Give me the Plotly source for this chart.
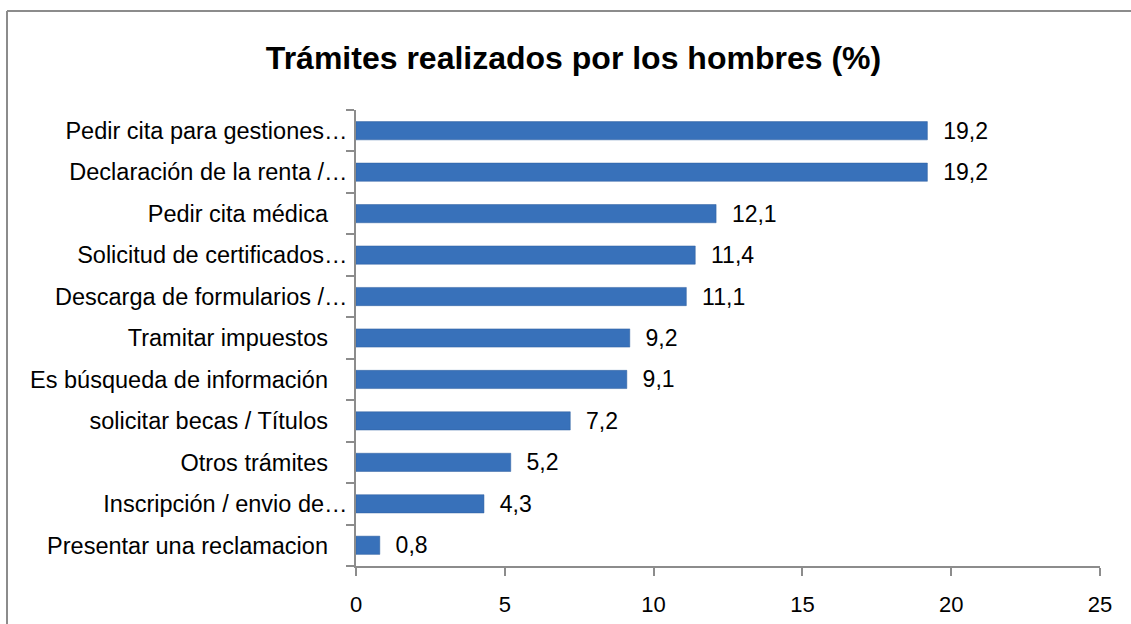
import plotly.graph_objects as go

# categories listed top to bottom, as in the original chart
categorias = [
    "Pedir cita para gestiones…",
    "Declaración de la renta /…",
    "Pedir cita médica ",
    "Solicitud de certificados…",
    "Descarga de formularios /…",
    "Tramitar impuestos ",
    "Es búsqueda de información ",
    "solicitar becas / Títulos ",
    "Otros trámites ",
    "Inscripción / envio de…",
    "Presentar una reclamacion ",
]
porcentajes = [19.2, 19.2, 12.1, 11.4, 11.1, 9.2, 9.1, 7.2, 5.2, 4.3, 0.8]
x_ticks = [0, 5, 10, 15, 20, 25]

fuente = "Liberation Sans, Arial, sans-serif"

W, H = 1131, 624
L, T, PW, PH = 356, 110, 744, 456

# trailing blanks survive as non-breaking spaces
etiquetas = [c.rstrip() + "\u00a0" * 3 if c.endswith(" ") else c for c in categorias]

fig = go.Figure()
fig.add_trace(go.Bar(
    x=porcentajes,
    y=categorias,
    orientation="h",
    marker=dict(color="#3871ba", line=dict(color="#2f5f9f", width=0.5)),
    width=0.44,
    text=["  " + f"{v:.1f}".replace(".", ",") for v in porcentajes],
    textposition="outside",
    constraintext="none",
    textfont=dict(family=fuente, size=23, color="#000000"),
    cliponaxis=False,
    showlegend=False,
))

fig.update_layout(
    width=W, height=H,
    margin=dict(l=L, r=W - L - PW, t=T, b=H - T - PH, autoexpand=False),
    paper_bgcolor="white", plot_bgcolor="white",
    title=dict(
        text="<b>Trámites realizados por los hombres (%)</b>",
        x=(265 + 882) / 2 / W, xanchor="center",
        y=1 - 58 / H, yanchor="middle",
        font=dict(family=fuente, size=32, color="#000000"),
    ),
    font=dict(family=fuente, size=23, color="#000000"),
    bargap=0.56,
)

fig.update_xaxes(
    range=[0, 25], tickvals=x_ticks, ticktext=[str(t) for t in x_ticks],
    showgrid=False, zeroline=False, automargin=False,
    showline=True, linecolor="#8c8c8c", linewidth=1.5,
    ticks="outside", ticklen=8, tickcolor="#8c8c8c", tickwidth=1.5,
    tickfont=dict(size=22), ticklabelstandoff=10,
)
fig.update_yaxes(
    autorange="reversed", showgrid=False, automargin=False,
    tickvals=categorias, ticktext=etiquetas,
    showline=True, linecolor="#8c8c8c", linewidth=1.5,
    ticks="outside", ticklen=8, tickcolor="#8c8c8c", tickwidth=1.5,
    tickson="boundaries", tickfont=dict(size=23.5), ticklabelstandoff=2,
)

# chart frame (top and left edges visible, the rest is cropped)
px_x = lambda p: (p - L) / PW
px_y = lambda p: 1 - (p - T) / PH
fig.add_shape(type="line", xref="paper", yref="paper",
              x0=px_x(7), x1=px_x(1131), y0=px_y(11), y1=px_y(11),
              line=dict(color="#8c8c8c", width=2))
fig.add_shape(type="line", xref="paper", yref="paper",
              x0=px_x(7), x1=px_x(7), y0=px_y(11), y1=px_y(624),
              line=dict(color="#8c8c8c", width=2))

# drop the default page margin so the figure fills the window exactly
fig.write_html(
    "out.html",
    config={"displayModeBar": False},
    post_script="document.body.style.margin='0';document.body.style.overflow='hidden';",
)
